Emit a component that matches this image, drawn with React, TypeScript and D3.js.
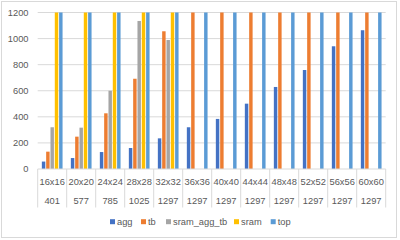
import React from "react";
import * as d3 from "d3";

const categories = ["16x16", "20x20", "24x24", "28x28", "32x32", "36x36", "40x40", "44x44", "48x48", "52x52", "56x56", "60x60"];
const subLabels = ["401", "577", "785", "1025", "1297", "1297", "1297", "1297", "1297", "1297", "1297", "1297"];
const seriesNames = ["agg", "tb", "sram_agg_tb", "sram", "top"];
const colors = ["#4472C4", "#ED7D31", "#A5A5A5", "#FFC000", "#5B9BD5"];
const agg = [57, 84, 130, 161, 235, 320, 384, 501, 629, 759, 941, 1064];
const tb = [133, 248, 427, 692, 1056, 1200, 1200, 1200, 1200, 1200, 1200, 1200];
const sramAggTb: (number | null)[] = [320, 317, 600, 1135, 989, null, null, null, null, null, null, null];
const sram: (number | null)[] = [1200, 1200, 1200, 1200, 1200, null, null, null, null, null, null, null];
const top = [1200, 1200, 1200, 1200, 1200, 1200, 1200, 1200, 1200, 1200, 1200, 1200];
const yTicks = [0, 200, 400, 600, 800, 1000, 1200];

const seriesValues: (number | null)[][] = [agg, tb, sramAggTb, sram, top];

export default function App() {
  const W = 400, H = 240;
  const left = 37.7, right = 385.7, y0 = 169, yTop = 12.5;
  const x0 = d3.scaleBand<string>().domain(categories).range([left, right]).padding(0);
  const bw = x0.bandwidth();
  const gap = bw * 0.4 / 1.4 / 2;
  const x1 = d3.scaleBand<string>().domain(seriesNames).range([gap, bw - gap]).paddingInner(0.2).paddingOuter(0);
  const y = d3.scaleLinear().domain([0, 1200]).range([y0, yTop]).clamp(true);
  const font = "'Liberation Sans', Arial, sans-serif";
  const textColor = "#595959";
  const grid = "#d9d9d9";

  const legendX = [110, 141, 166, 234, 270.7];

  return (
    <svg width={W} height={H} style={{ position: "absolute", left: 0, top: 0 }} fontFamily={font}>
      <rect x={0} y={0} width={W} height={H} fill="#fff" />
      <rect x={1.5} y={1.5} width={395} height={236} fill="none" stroke={grid} strokeWidth={1} />
      {yTicks.map((t) => (
        <g key={t}>
          {t > 0 && <line x1={left} x2={right} y1={y(t)} y2={y(t)} stroke={grid} strokeWidth={1} />}
          <text x={28.5} y={y(t)} dy="0.35em" textAnchor="end" fontSize={9.3} fill={textColor}>{t}</text>
        </g>
      ))}
      {seriesValues.map((vals, si) =>
        vals.map((v, ci) =>
          v == null ? null : (
            <rect
              key={`${si}-${ci}`}
              x={(x0(categories[ci]) as number) + (x1(seriesNames[si]) as number)}
              y={y(v)}
              width={x1.bandwidth()}
              height={y0 - y(v)}
              fill={colors[si]}
            />
          )
        )
      )}
      <line x1={left} x2={right} y1={y0} y2={y0} stroke={grid} strokeWidth={1} />
      {[...categories.map((c) => x0(c) as number), right].map((xv, i) => (
        <line key={i} x1={xv} x2={xv} y1={y0} y2={207.5} stroke={grid} strokeWidth={1} />
      ))}
      {categories.map((c, i) => (
        <g key={c}>
          <text x={(x0(c) as number) + bw / 2} y={181.7} dy="0.35em" textAnchor="middle" fontSize={9.3} fill={textColor}>{c}</text>
          <text x={(x0(c) as number) + bw / 2} y={200.7} dy="0.35em" textAnchor="middle" fontSize={9.3} fill={textColor}>{subLabels[i]}</text>
        </g>
      ))}
      {seriesNames.map((s, i) => (
        <g key={s}>
          <rect x={legendX[i]} y={219.2} width={5} height={5} fill={colors[i]} />
          <text x={legendX[i] + 7} y={221.7} dy="0.35em" fontSize={9.3} fill={textColor}>{s}</text>
        </g>
      ))}
    </svg>
  );
}
